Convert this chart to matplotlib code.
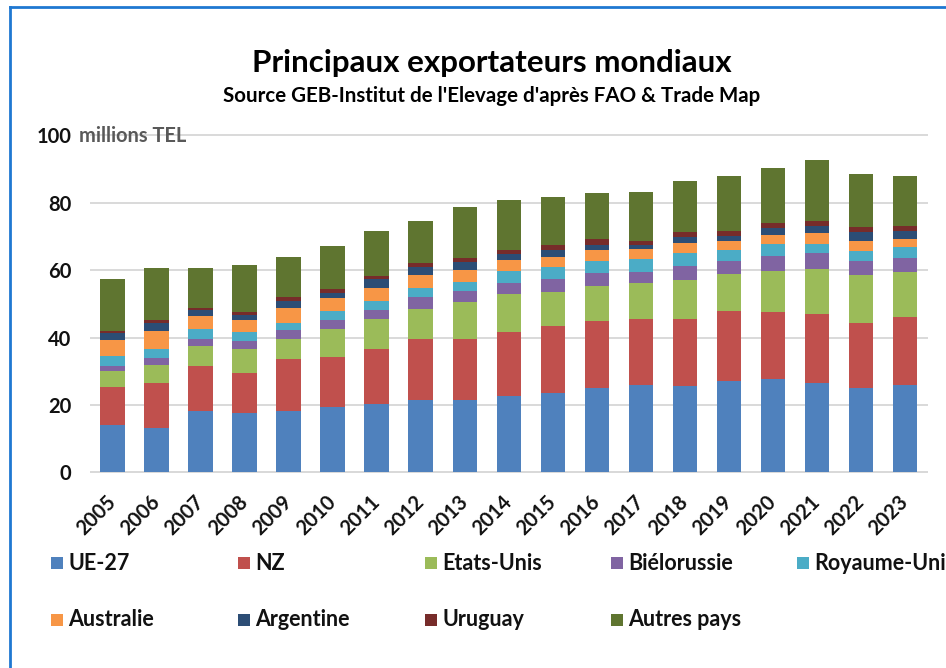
import matplotlib
matplotlib.use('Agg')
import matplotlib.pyplot as plt
from matplotlib.patches import Rectangle
from matplotlib.lines import Line2D
import numpy as np

# ---------------- data (millions TEL) ----------------
years = [str(y) for y in range(2005, 2024)]
ue27        = [13.9, 13.1, 18.2, 17.6, 18.2, 19.4, 20.4, 21.6, 21.4, 22.7, 23.5, 24.9, 25.9, 25.7, 27.1, 27.7, 26.5, 25.0, 25.9]
nz          = [11.5, 13.4, 13.4, 11.9, 15.5, 14.9, 16.1, 18.1, 18.1, 19.0, 20.0, 19.9, 19.5, 19.7, 20.7, 19.9, 20.6, 19.4, 20.3]
etats_unis  = [4.7, 5.3, 6.0, 7.2, 5.8, 8.3, 9.1, 8.9, 11.1, 11.3, 10.0, 10.6, 10.7, 11.8, 11.0, 12.1, 13.3, 14.2, 13.1]
bielorussie = [1.5, 2.0, 1.9, 2.3, 2.8, 2.5, 2.5, 3.3, 3.1, 3.2, 3.8, 3.7, 3.4, 4.0, 4.0, 4.5, 4.6, 4.2, 4.4]
royaume_uni = [3.0, 2.9, 3.0, 2.7, 2.0, 2.7, 2.7, 2.7, 2.8, 3.5, 3.5, 3.5, 3.8, 3.8, 3.2, 3.4, 2.7, 2.9, 3.2]
australie   = [4.7, 5.3, 3.9, 3.6, 4.6, 3.8, 3.8, 3.8, 3.5, 3.2, 3.2, 3.3, 3.0, 2.9, 2.5, 2.7, 3.2, 2.8, 2.4]
argentine   = [1.9, 2.2, 1.7, 1.4, 1.9, 1.7, 2.7, 2.4, 2.5, 1.9, 2.0, 1.6, 1.0, 1.8, 1.6, 2.2, 2.3, 2.7, 2.2]
uruguay     = [0.7, 0.9, 0.8, 0.9, 1.1, 1.0, 1.0, 1.3, 1.2, 1.1, 1.3, 1.6, 1.4, 1.7, 1.6, 1.6, 1.5, 1.6, 1.7]
autres_pays = [15.5, 15.6, 11.6, 14.0, 12.1, 12.9, 13.2, 12.4, 15.1, 14.8, 14.5, 13.8, 14.6, 15.1, 16.1, 16.1, 18.0, 15.8, 14.6]

series_names = ["UE-27", "NZ", "Etats-Unis", "Biélorussie", "Royaume-Uni",
                "Australie", "Argentine", "Uruguay", "Autres pays"]
series_values = [ue27, nz, etats_unis, bielorussie, royaume_uni,
                 australie, argentine, uruguay, autres_pays]
series_colors = ["#4F81BD", "#C0504D", "#9BBB59", "#8064A2", "#4BACC6",
                 "#F79646", "#2C4D75", "#772C2A", "#5F7530"]
y_ticks = [0, 20, 40, 60, 80, 100]

title = "Principaux exportateurs mondiaux"
subtitle = "Source GEB-Institut de l'Elevage d'après FAO & Trade Map"
unit = "millions TEL"

# ---------------- figure ----------------
plt.rcParams['font.family'] = ['Lato', 'DejaVu Sans']
W, H = 946, 668
fig = plt.figure(figsize=(W / 100, H / 100), dpi=100)
fig.patch.set_facecolor('white')


def fx(px):
    return px / W


def fy(py):
    return 1 - py / H


renderer = fig.canvas.get_renderer()


def fit_width(t, target_px):
    bb = t.get_window_extent(renderer=renderer)
    t.set_fontsize(t.get_fontsize() * target_px / bb.width)
    return t.get_fontsize()


# blue chart-area border (top and left)
fig.add_artist(Line2D([fx(9.5), fx(946)], [fy(6.5), fy(6.5)], color="#1F78D1", linewidth=2.0))
fig.add_artist(Line2D([fx(9.5), fx(9.5)], [fy(6.5), fy(668)], color="#1F78D1", linewidth=2.0))

ax = fig.add_axes([fx(90.7), fy(472.3), fx(927) - fx(90.7), (472.3 - 135.3) / H])
x = np.arange(len(years))
bottom = np.zeros(len(years))
for name, vals, col in zip(series_names, series_values, series_colors):
    ax.bar(x, vals, width=0.56, bottom=bottom, color=col, zorder=3, label=name)
    bottom += np.array(vals)

ax.set_xlim(-0.5, len(years) - 0.5)
ax.set_ylim(0, 100)
ax.set_yticks(y_ticks)
ax.set_yticklabels([str(v) for v in y_ticks], fontweight='bold')
ax.yaxis.grid(True, color='#d9d9d9', linewidth=1.4, zorder=0)
for gl in ax.get_ygridlines():
    gl.set_clip_on(False)
ax.set_axisbelow(True)
for s in ['top', 'right', 'left']:
    ax.spines[s].set_visible(False)
ax.spines['bottom'].set_color('#d9d9d9')
ax.spines['bottom'].set_linewidth(1.4)
ax.tick_params(axis='y', length=0, pad=14, labelsize=14.5, labelcolor='#111111')
ax.tick_params(axis='x', length=0, pad=19, labelsize=14.5, labelcolor='#111111')
ax.set_xticks(x)
ax.set_xticklabels(years, rotation=45, ha='right', va='center',
                   rotation_mode='anchor', fontweight='bold')

# titles
t1 = fig.text(fx(491.5), fy(63), title, ha='center', va='center',
              fontsize=20, fontweight='bold', color='black')
fit_width(t1, 481)
t2 = fig.text(fx(491.5), fy(96), subtitle, ha='center', va='center',
              fontsize=13, fontweight='bold', color='black')
fit_width(t2, 535)

t3 = fig.text(fx(79), fy(136), unit, ha='left', va='center',
              fontsize=13, fontweight='bold', color='#595959')
fit_width(t3, 107)

# legend (manual, two rows)
probe = fig.text(0, 0, "Australie", fontsize=13, fontweight='bold')
leg_fs = fit_width(probe, 86)
probe.remove()
col_x = [51, 238, 425, 611, 797]
row_y = [563, 620]
for i, (name, col) in enumerate(zip(series_names, series_colors)):
    r, c = divmod(i, 5)
    mx, my = col_x[c], row_y[r]
    fig.add_artist(Rectangle((fx(mx), fy(my + 6)), 12 / W, 12 / H,
                             facecolor=col, edgecolor='none'))
    fig.text(fx(mx + 17), fy(my), name, ha='left', va='center',
             fontsize=leg_fs, fontweight='bold', color='#111111')

fig.savefig("out.png", dpi=100, facecolor='white')
